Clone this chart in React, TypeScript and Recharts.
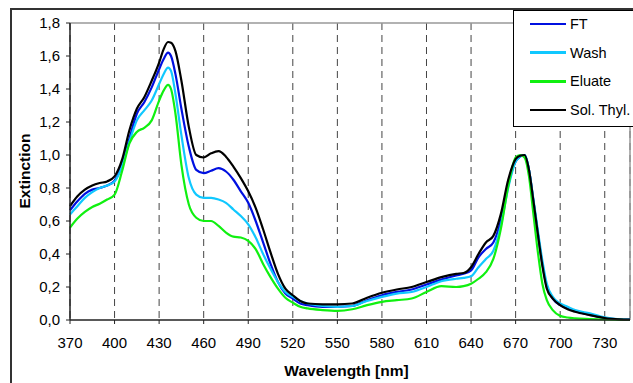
import React from "react";
import { LineChart, Line, XAxis, YAxis, CartesianGrid, Legend, ReferenceLine } from "recharts";

const font = '"Liberation Sans", Arial, sans-serif';

// wavelength in nm
const wavelengths = [
  370, 375, 380, 385, 390, 395, 400, 405, 410, 415,
  420, 425, 430, 433, 436, 438, 441, 445, 450, 455,
  460, 465, 470, 475, 480, 485, 490, 495, 500, 505,
  510, 515, 520, 525, 530, 540, 550, 560, 570, 580,
  590, 600, 610, 620, 630, 635, 640, 645, 650, 655,
  660, 665, 670, 673, 676, 679, 682, 685, 688, 691,
  695, 700, 705, 710, 720, 730, 740, 747,
];

const ft = [
  0.665, 0.72, 0.765, 0.79, 0.8, 0.815, 0.845, 0.94, 1.1, 1.25,
  1.32, 1.41, 1.52, 1.58, 1.62, 1.6, 1.49, 1.28, 1.05, 0.91,
  0.89, 0.905, 0.92, 0.9, 0.85, 0.78, 0.71, 0.6, 0.47, 0.34,
  0.23, 0.16, 0.13, 0.1, 0.09, 0.08, 0.08, 0.085, 0.12, 0.15,
  0.17, 0.185, 0.215, 0.245, 0.27, 0.28, 0.3, 0.38, 0.43, 0.47,
  0.6, 0.82, 0.96, 0.99, 1.0, 0.91, 0.72, 0.52, 0.34, 0.2,
  0.13, 0.09, 0.07, 0.055, 0.03, 0.012, 0.004, 0.002,
];

const wash = [
  0.64, 0.69, 0.74, 0.775, 0.8, 0.815, 0.84, 0.93, 1.08, 1.21,
  1.27, 1.33, 1.43, 1.49, 1.53, 1.51, 1.37, 1.12, 0.86, 0.76,
  0.74, 0.74, 0.73, 0.71, 0.67, 0.63, 0.58, 0.5, 0.4, 0.31,
  0.23, 0.17, 0.14, 0.115, 0.1, 0.085, 0.08, 0.085, 0.115, 0.14,
  0.16, 0.17, 0.2, 0.235, 0.25, 0.255, 0.265, 0.32, 0.37, 0.42,
  0.57, 0.8, 0.96, 0.99, 1.0, 0.91, 0.73, 0.54, 0.36, 0.22,
  0.14, 0.1, 0.08, 0.06, 0.04, 0.016, 0.004, 0.002,
];

const eluate = [
  0.56, 0.615, 0.655, 0.685, 0.705, 0.73, 0.76, 0.9, 1.07, 1.14,
  1.165, 1.21, 1.33, 1.39, 1.425, 1.4, 1.25, 0.94, 0.7, 0.62,
  0.6, 0.6, 0.57, 0.53, 0.505, 0.5, 0.48, 0.43, 0.34, 0.26,
  0.19, 0.135, 0.105, 0.08, 0.07, 0.06, 0.055, 0.065, 0.09, 0.11,
  0.12, 0.13, 0.17, 0.205, 0.2, 0.205, 0.22, 0.25, 0.29, 0.37,
  0.55, 0.81, 0.985, 1.0, 0.985, 0.87, 0.64, 0.41, 0.22, 0.12,
  0.06, 0.025, 0.015, 0.01, 0.006, 0.003, 0.001, 0,
];

const solThyl = [
  0.69, 0.75, 0.79, 0.815, 0.83, 0.84, 0.87, 0.97, 1.15, 1.28,
  1.35, 1.45, 1.56, 1.64, 1.685, 1.68, 1.63, 1.45, 1.17, 1.0,
  0.985, 1.01, 1.023, 0.99, 0.93, 0.86, 0.78, 0.68, 0.55, 0.41,
  0.28, 0.19, 0.15, 0.115, 0.1, 0.095, 0.095, 0.1, 0.135, 0.165,
  0.185, 0.2, 0.23, 0.26, 0.28, 0.285, 0.32, 0.4, 0.47, 0.51,
  0.64, 0.85, 0.975, 0.995, 1.0, 0.91, 0.72, 0.52, 0.33, 0.19,
  0.13, 0.09, 0.065, 0.05, 0.03, 0.012, 0.004, 0.002,
];

const xTicks = [370, 400, 430, 460, 490, 520, 550, 580, 610, 640, 670, 700, 730];
const yTicks = [0, 0.2, 0.4, 0.6, 0.8, 1.0, 1.2, 1.4, 1.6, 1.8];

const series = [
  { key: "ft", name: "FT", color: "#0010E0" },
  { key: "wash", name: "Wash", color: "#10C8FF" },
  { key: "eluate", name: "Eluate", color: "#10F010" },
  { key: "solThyl", name: "Sol. Thyl.", color: "#000000" },
];

const data = wavelengths.map((nm, i) => ({
  nm,
  ft: ft[i],
  wash: wash[i],
  eluate: eluate[i],
  solThyl: solThyl[i],
}));

const fmt = (v: number) => v.toFixed(1).replace(".", ",");

function LegendBox() {
  return (
    <div style={{ width: 130, height: 117, boxSizing: "border-box", border: "1px solid #000", background: "#fff", position: "relative", fontFamily: font, fontSize: 14.5, color: "#000" }}>
      {series.map((s, i) => (
        <div key={s.key} style={{ position: "absolute", left: 16, top: 3 + i * 28.7, height: 20, display: "flex", alignItems: "center" }}>
          <div style={{ width: 36, height: 2.5, background: s.color, marginRight: 4 }} />
          <span style={{ whiteSpace: "nowrap" }}>{s.name}</span>
        </div>
      ))}
    </div>
  );
}

export default function App() {
  return (
    <div style={{ position: "absolute", left: 0, top: 0, width: 633, height: 383, overflow: "hidden", background: "#fff", fontFamily: font }}>
      <div style={{ position: "absolute", left: 10, top: 8, width: 700, height: 500, border: "2px solid #333" }} />
      <LineChart width={633} height={383} data={data} margin={{ top: 23, right: 3, bottom: 0, left: 10 }}>
        <CartesianGrid horizontal={false} stroke="#444" strokeDasharray="7 5" />
        <ReferenceLine y={1.8} stroke="#999" strokeWidth={1.5} />
        <ReferenceLine x={747} stroke="#999" strokeWidth={1.5} />
        <XAxis
          dataKey="nm"
          type="number"
          domain={[370, 747]}
          ticks={xTicks}
          interval={0}
          height={63}
          tickSize={4}
          tickMargin={13}
          axisLine={{ stroke: "#222", strokeWidth: 1.5 }}
          tickLine={{ stroke: "#222" }}
          tick={{ fill: "#000", fontSize: 15, fontFamily: font }}
        />
        <YAxis
          domain={[0, 1.8]}
          ticks={yTicks}
          interval={0}
          width={60}
          tickSize={4}
          tickMargin={6}
          tickFormatter={fmt}
          axisLine={{ stroke: "#222", strokeWidth: 1.5 }}
          tickLine={{ stroke: "#222" }}
          tick={{ fill: "#000", fontSize: 15, fontFamily: font }}
        />
        <Legend
          layout="vertical"
          align="center"
          verticalAlign="middle"
          content={() => <LegendBox />}
          wrapperStyle={{ left: 513, top: 10, width: 130, height: 117 }}
        />
        {series.map((s) => (
          <Line
            key={s.key}
            type="monotone"
            dataKey={s.key}
            name={s.name}
            stroke={s.color}
            strokeWidth={2.2}
            dot={false}
            isAnimationActive={false}
          />
        ))}
      </LineChart>
      <div style={{ position: "absolute", left: 246.5, top: 361, width: 200, lineHeight: "20px", textAlign: "center", fontWeight: "bold", fontSize: 15.5 }}>
        Wavelength [nm]
      </div>
      <div style={{ position: "absolute", left: -25, top: 161, width: 100, lineHeight: "20px", textAlign: "center", fontWeight: "bold", fontSize: 15.5, transform: "rotate(-90deg)" }}>
        Extinction
      </div>
    </div>
  );
}
